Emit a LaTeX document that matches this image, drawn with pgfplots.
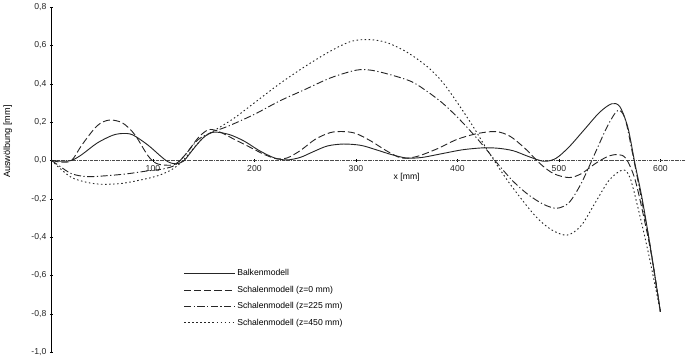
\documentclass[border=0pt]{standalone}
\usepackage{fontspec}
\setmainfont{Liberation Sans}
\usepackage{pgfplots}
\pgfplotsset{compat=1.18}
\begin{document}
\begin{tikzpicture}
\begin{axis}[
  scale only axis, width=625pt, height=340pt,
  xmin=0, xmax=625, ymin=-1.0, ymax=0.8,
  axis x line=middle, axis y line=left,
  axis line style={-},
  x axis line style={black!70, densely dashdotted},
  xtick={100,200,300,400,500,600},
  ytick={-1,-0.8,-0.6,-0.4,-0.2,0,0.2,0.4,0.6,0.8},
  tick style={black, major tick length=3pt},
  /pgf/number format/assume math mode=true,
  yticklabel style={/pgf/number format/.cd, fixed, fixed zerofill, precision=1, use comma, assume math mode=true},
  xticklabel style={/pgf/number format/.cd, assume math mode=true},
  tick label style={font=\fontsize{8.5}{10}\selectfont, black!85},
  xlabel={x [mm]},
  xlabel style={at={(axis cs:350,-0.09)}, anchor=center, font=\fontsize{8.5}{10}\selectfont},
  ylabel={Auswölbung [mm]},
  every axis y label/.style={at={(axis description cs:-0.069,0.61)}, rotate=90, anchor=center, font=\fontsize{9}{10}\selectfont},
  legend cell align=left,
  legend style={draw=none, fill=none, at={(axis description cs:0.208,0.245)}, anchor=north west,
    font=\fontsize{8.5}{10}\selectfont, row sep=4.5pt, inner sep=0pt},
  legend image code/.code={\draw[#1] (0pt,0pt) -- (50pt,0pt);},
  every axis plot/.append style={line width=0.9pt, black!85},
]
\addplot[smooth, solid] coordinates {
(0,0) (10,-0.005) (20,0.0) (30,0.03) (45,0.09) (60,0.13) (70,0.14) (80,0.133) (95,0.08) (108,0.02) (115,-0.008) (122,-0.018) (130,-0.005) (140,0.06) (150,0.12) (160,0.147) (175,0.135) (190,0.10) (205,0.05) (220,0.012) (232,0.002) (245,0.015) (258,0.045) (272,0.075) (288,0.085) (305,0.078) (320,0.055) (335,0.03) (350,0.012) (365,0.015) (385,0.035) (405,0.055) (425,0.065) (440,0.063) (455,0.05) (470,0.02) (485,-0.005) (497,0.01) (510,0.07) (525,0.16) (540,0.25) (552,0.295) (560,0.28) (568,0.17) (575,-0.02) (582,-0.2) (590,-0.45) (600,-0.79)
};
\addlegendentry{Balkenmodell}
\addplot[smooth, dash pattern=on 7pt off 3pt] coordinates {
(0,0) (10,-0.01) (20,0.0) (30,0.08) (45,0.18) (57,0.21) (70,0.195) (82,0.135) (95,0.025) (103,-0.015) (112,-0.025) (122,-0.02) (132,0.03) (145,0.12) (155,0.16) (165,0.15) (180,0.11) (195,0.07) (210,0.03) (222,0.008) (232,0.012) (245,0.05) (260,0.11) (275,0.145) (288,0.15) (300,0.14) (315,0.10) (330,0.05) (345,0.012) (360,0.02) (380,0.06) (400,0.11) (420,0.14) (438,0.15) (452,0.125) (467,0.06) (482,-0.02) (495,-0.07) (510,-0.09) (522,-0.07) (535,-0.02) (548,0.02) (558,0.03) (566,0.01) (575,-0.1) (585,-0.33) (592,-0.52) (600,-0.79)
};
\addlegendentry{Schalenmodell (z=0 mm)}
\addplot[smooth, dash pattern=on 7pt off 2.5pt on 1.2pt off 2.5pt] coordinates {
(0,0) (8,-0.03) (20,-0.07) (35,-0.085) (55,-0.08) (75,-0.07) (95,-0.055) (110,-0.045) (122,-0.025) (132,0.03) (145,0.11) (160,0.15) (175,0.18) (200,0.24) (225,0.31) (250,0.37) (275,0.43) (300,0.47) (315,0.47) (335,0.445) (355,0.41) (370,0.36) (385,0.30) (400,0.225) (415,0.14) (428,0.06) (440,-0.02) (455,-0.11) (470,-0.18) (485,-0.23) (498,-0.25) (510,-0.22) (522,-0.12) (535,0.03) (548,0.18) (558,0.26) (565,0.22) (572,0.05) (582,-0.22) (590,-0.45) (600,-0.79)
};
\addlegendentry{Schalenmodell (z=225 mm)}
\addplot[smooth, dash pattern=on 1.5pt off 2.5pt] coordinates {
(0,0) (8,-0.04) (20,-0.09) (35,-0.115) (50,-0.125) (70,-0.12) (90,-0.1) (105,-0.08) (118,-0.05) (128,-0.01) (138,0.05) (150,0.12) (162,0.16) (180,0.22) (200,0.30) (225,0.40) (250,0.49) (275,0.57) (295,0.62) (312,0.63) (330,0.615) (350,0.565) (370,0.49) (385,0.41) (400,0.30) (415,0.18) (430,0.05) (450,-0.11) (475,-0.28) (492,-0.36) (508,-0.39) (522,-0.34) (537,-0.21) (550,-0.1) (563,-0.05) (570,-0.09) (578,-0.25) (588,-0.48) (600,-0.79)
};
\addlegendentry{Schalenmodell (z=450 mm)}
\end{axis}
\end{tikzpicture}
\end{document}
